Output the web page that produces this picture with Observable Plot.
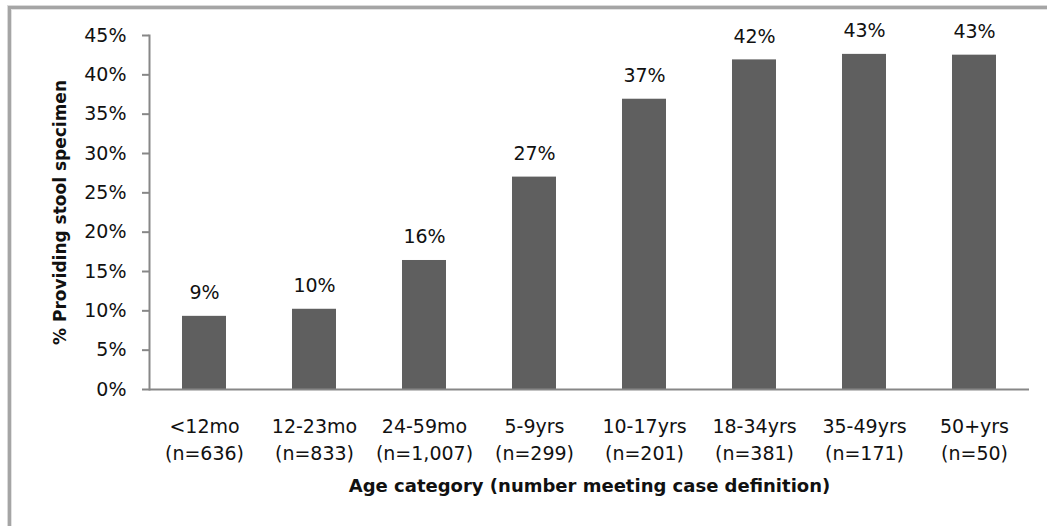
<!DOCTYPE html>
<html>
<head>
<meta charset="utf-8">
<script src="https://cdn.jsdelivr.net/npm/d3@7"></script>
<script src="https://cdn.jsdelivr.net/npm/@observablehq/plot@0.6"></script>
<style>
  html, body { margin: 0; padding: 0; background: #fff; overflow: hidden; }
  #wrap { position: relative; width: 1047px; height: 526px; overflow: hidden; }
  #frame { position: absolute; left: 8px; top: 6px; width: 3000px; height: 3000px;
           border: 3px solid #a5a5a5; box-shadow: 0 0 0 1px #dadada, inset 0 0 0 1px #e2e2e2; }
  #chart { position: absolute; left: 0; top: 0; }
</style>
</head>
<body>
<div id="wrap"><div id="frame"></div><div id="chart"></div></div>
<script>
const categories = ["<12mo", "12-23mo", "24-59mo", "5-9yrs", "10-17yrs", "18-34yrs", "35-49yrs", "50+yrs"];
const counts = ["n=636", "n=833", "n=1,007", "n=299", "n=201", "n=381", "n=171", "n=50"];
const values = [9.3, 10.2, 16.4, 27.0, 36.9, 41.9, 42.6, 42.5];
const yTicks = [0, 5, 10, 15, 20, 25, 30, 35, 40, 45];
const yTitle = "% Providing stool specimen";
const xTitle = "Age category (number meeting case definition)";

const data = categories.map((c, i) => ({cat: c, n: counts[i], v: values[i]}));
const font = "DejaVu Sans, sans-serif";

const chart = Plot.plot({
  width: 1047,
  height: 526,
  marginLeft: 149,
  marginRight: 18,
  marginTop: 35,
  marginBottom: 137,
  style: {fontFamily: font, background: "transparent", color: "#111"},
  x: {domain: categories, paddingInner: 0.6, paddingOuter: 0.3, align: 0.5},
  y: {domain: [0, 45]},
  marks: [
    Plot.barY(data, {x: "cat", y: "v", fill: "#5f5f5f"}),
    Plot.ruleY([0], {stroke: "#878787", strokeWidth: 2}),
    Plot.frame({anchor: "left", stroke: "#878787", strokeWidth: 2}),
    Plot.axisY({
      ticks: yTicks, tickSize: 7, tickPadding: 16, stroke: "#878787", strokeWidth: 2,
      tickFormat: d => d + "%", fontSize: 19, label: null, fill: "#111"
    }),
    Plot.axisX({
      tickSize: 0, tickPadding: 24, fontSize: 19, lineHeight: 1.42, label: null, fill: "#111",
      tickFormat: c => c + "\n(" + counts[categories.indexOf(c)] + ")"
    }),
    Plot.text(data, {
      x: "cat", y: "v", text: d => Math.round(d.v) + "%",
      lineAnchor: "bottom", dy: -17, fontSize: 19, fill: "#111"
    }),
    Plot.text([yTitle], {
      frameAnchor: "left", dx: -89, rotate: -90, fontSize: 17, fontWeight: "bold",
      textAnchor: "middle", lineAnchor: "middle", fill: "#111", text: d => d
    }),
    Plot.text([xTitle], {
      frameAnchor: "bottom", dy: 102, fontSize: 18, fontWeight: "bold",
      textAnchor: "middle", lineAnchor: "bottom", fill: "#111", text: d => d
    })
  ]
});
document.getElementById("chart").appendChild(chart);
</script>
</body>
</html>
